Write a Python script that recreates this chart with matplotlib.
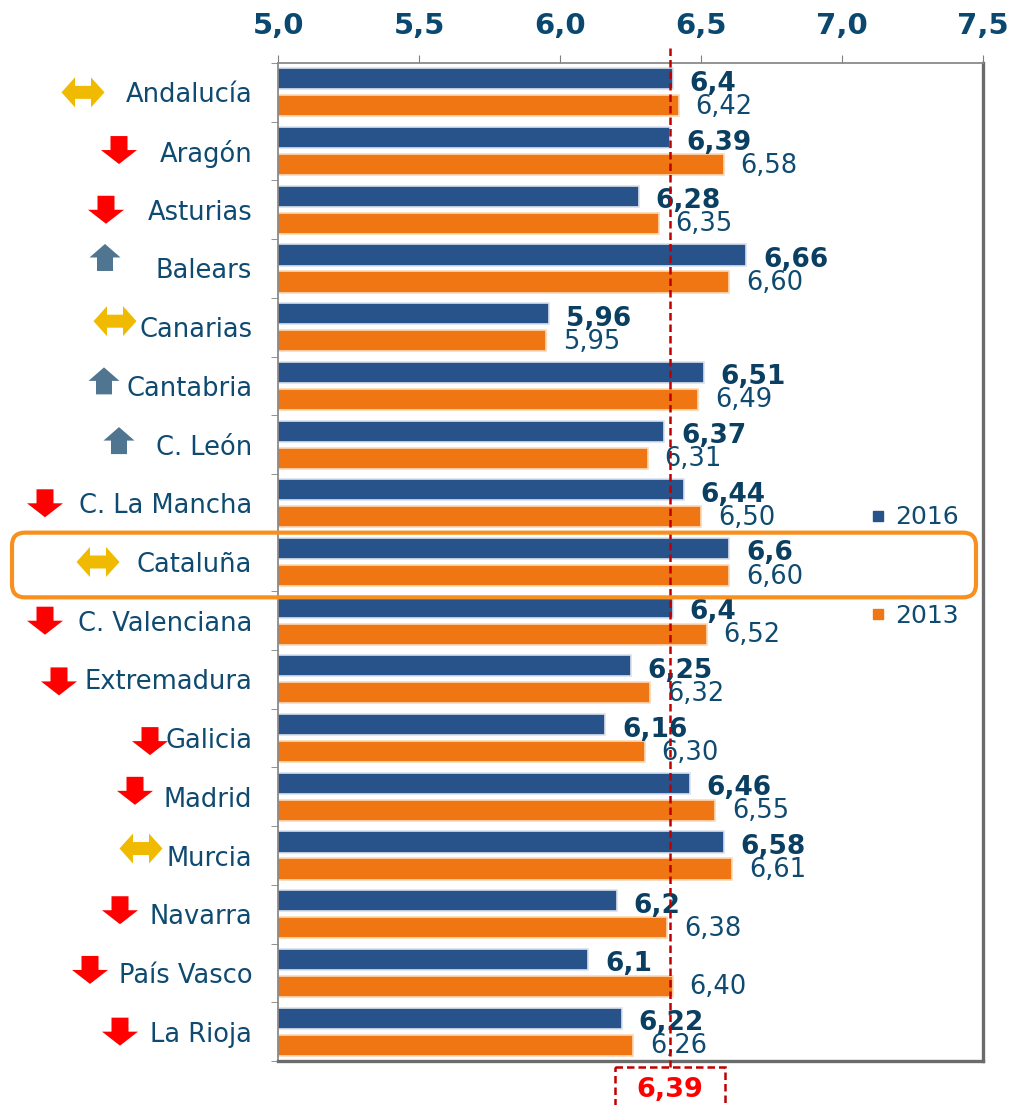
import numpy as np
import matplotlib.pyplot as plt
from matplotlib.patches import Polygon, FancyBboxPatch, Rectangle
from matplotlib.lines import Line2D
from matplotlib.transforms import IdentityTransform

# data
regions = ["Andalucía", "Aragón", "Asturias", "Balears", "Canarias", "Cantabria",
           "C. León", "C. La Mancha", "Cataluña", "C. Valenciana", "Extremadura",
           "Galicia", "Madrid", "Murcia", "Navarra", "País Vasco", "La Rioja"]
v2016 = [6.40, 6.39, 6.28, 6.66, 5.96, 6.51, 6.37, 6.44, 6.60, 6.40, 6.25,
         6.16, 6.46, 6.58, 6.20, 6.10, 6.22]
v2013 = [6.42, 6.58, 6.35, 6.60, 5.95, 6.49, 6.31, 6.50, 6.60, 6.52, 6.32,
         6.30, 6.55, 6.61, 6.38, 6.40, 6.26]
trend = ["eq", "down", "down", "up", "eq", "up", "up", "down", "eq", "down",
         "down", "down", "down", "eq", "down", "down", "down"]
mean_val = 6.39
highlight = "Cataluña"
xticks = [5.0, 5.5, 6.0, 6.5, 7.0, 7.5]

# arrow placement (pixels): centre x, vertical shift from row centre
arrow_x = [83, 119, 106, 105, 115, 104, 119, 45, 98, 45, 59, 150, 135, 141, 120, 90, 120]
arrow_dy = [0, -1, 0, -11, -6, -5, -4, 0, 0, 0, 2, 3, -6, -7, -4, -3, 0]

BLUE = "#27538A"
ORANGE = "#F07613"
TXT = "#0F4A70"
VAL = "#0A3F62"

W, H = 1012, 1105
fig = plt.figure(figsize=(W / 100, H / 100), dpi=100)
ax = fig.add_axes([278.3 / W, 1 - 1061 / H, (983 - 278.3) / W, (1061 - 63) / H])

n = len(regions)
y = np.arange(n)
ax.barh(y - 0.23, v2016, height=0.36, color=BLUE, edgecolor="#d9e1ec", linewidth=1.2, zorder=2)
ax.barh(y + 0.23, v2013, height=0.36, color=ORANGE, edgecolor="#fcd9b8", linewidth=1.2, zorder=2)

for i in range(n):
    ax.annotate(f"{v2016[i]:g}".replace(".", ","), xy=(v2016[i], i - 0.23),
                xytext=(12, -8.6), textcoords="offset points", va="baseline",
                ha="left", fontsize=19, fontweight="bold", color=VAL, zorder=4)
    ax.annotate(f"{v2013[i]:.2f}".replace(".", ","), xy=(v2013[i], i + 0.23),
                xytext=(12, -5.8), textcoords="offset points", va="baseline",
                ha="left", fontsize=18.5, color=TXT, zorder=4)

ax.set_xlim(5.0, 7.5)
ax.set_ylim(n - 0.5, -0.5)

ax.xaxis.tick_top()
ax.set_xticks(xticks)
ax.set_xticklabels([f"{t:.1f}".replace(".", ",") for t in xticks],
                   fontweight="bold", fontsize=21, color="#0B4870")
ax.tick_params(axis="x", length=5.5, color="#7f7f7f", pad=11)

ax.set_yticks(y)
ax.set_yticklabels(regions, fontsize=18.5, color=TXT)
ax.set_yticks(np.arange(-0.5, n, 1), minor=True)
ax.tick_params(axis="y", which="major", length=0, pad=18.7)
ax.tick_params(axis="y", which="minor", length=5, color="#7f7f7f")

for s in ["top", "left"]:
    ax.spines[s].set_color("#8a8a8a")
    ax.spines[s].set_linewidth(1.3)
for s in ["right", "bottom"]:
    ax.spines[s].set_color("#6b6b6b")
    ax.spines[s].set_linewidth(2.4)

# mean line and box
ax.plot([mean_val, mean_val], [-0.76, n - 0.4], ls=(0, (3, 1.6)), color="#C00000",
        lw=1.8, clip_on=False, zorder=5)
ax.add_patch(Rectangle((mean_val - 0.195, n - 0.4), 0.39, 1.2, fill=False,
                       ls=(0, (3, 1.6)), ec="#C00000", lw=1.8, clip_on=False))
ax.text(mean_val, n - 0.0, f"{mean_val:.2f}".replace(".", ","), ha="center",
        va="center", fontsize=19.5, fontweight="bold", color="#FF0000")

# legend
handles = [Line2D([], [], marker="s", ls="none", color=BLUE, markersize=7),
           Line2D([], [], marker="s", ls="none", color=ORANGE, markersize=7)]
ax.legend(handles, ["2016", "2013"], loc="center", bbox_to_anchor=(0.903, 0.4955),
          frameon=False, fontsize=18, labelcolor=TXT, labelspacing=2.97,
          handlelength=0.6, handletextpad=0.4)

# highlight box around Cataluña
hi = regions.index(highlight)
ytop = ax.transData.transform((5, hi - 0.5))[1]
ybot = ax.transData.transform((5, hi + 0.5))[1] - 6
fig.add_artist(FancyBboxPatch((12, ybot), 964, ytop - ybot,
                              boxstyle="round,pad=0,rounding_size=13",
                              transform=IdentityTransform(), fill=False,
                              ec="#F7901E", lw=3, zorder=6))

# trend arrows
def arrow_shape(kind):
    if kind == "down":
        return [(-8.5, 14), (8.5, 14), (8.5, 0), (18, 0), (0, -14), (-18, 0), (-8.5, 0)]
    if kind == "up":
        return [(-8, -13.5), (8, -13.5), (8, 0), (15.5, 0), (0, 13.5), (-15.5, 0), (-8, 0)]
    return [(-21.5, 0), (-8, 15), (-8, 6.5), (8, 6.5), (8, 15), (21.5, 0),
            (8, -15), (8, -6.5), (-8, -6.5), (-8, -15)]

colors = {"down": "#FF0000", "up": "#4F7590", "eq": "#F0BA00"}
for i, kind in enumerate(trend):
    cy = ax.transData.transform((5, i))[1] - arrow_dy[i]
    pts = [(arrow_x[i] + px, cy + py) for px, py in arrow_shape(kind)]
    fig.add_artist(Polygon(pts, closed=True, transform=IdentityTransform(),
                           fc=colors[kind], ec="none", zorder=6))

fig.savefig("out.png", dpi=100)
